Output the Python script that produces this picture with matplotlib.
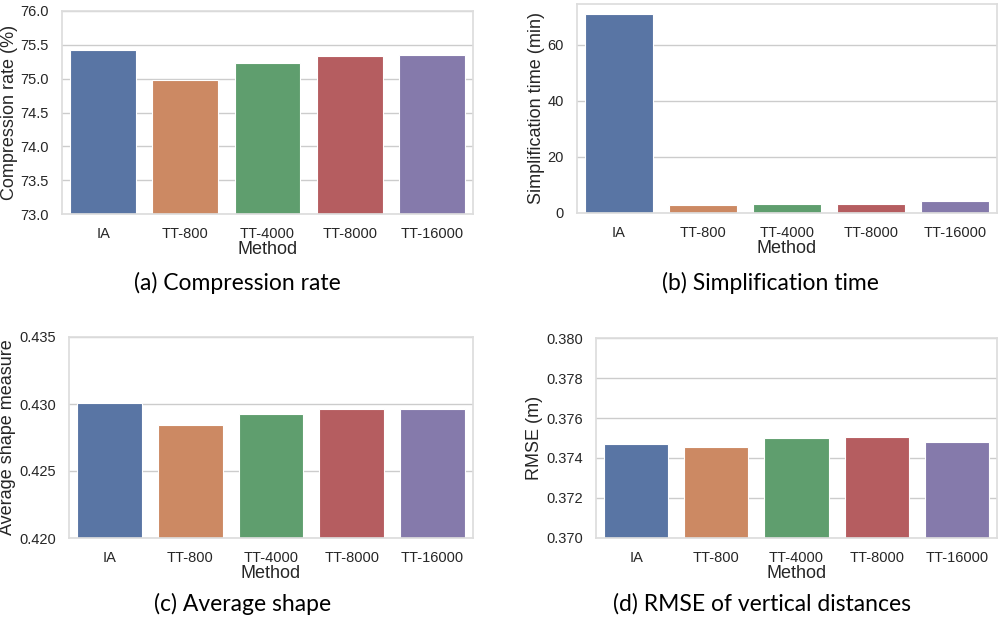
import matplotlib
matplotlib.use("Agg")
import matplotlib.pyplot as plt
import seaborn as sns

methods = ["IA", "TT-800", "TT-4000", "TT-8000", "TT-16000"]
compression_rate = [75.43, 74.98, 75.23, 75.33, 75.35]
simplification_time = [70.9, 3.0, 3.3, 3.3, 4.3]
avg_shape = [0.43010, 0.42847, 0.42922, 0.42959, 0.42962]
rmse = [0.37471, 0.37454, 0.37501, 0.37504, 0.37479]

captions = ["(a) Compression rate", "(b) Simplification time",
            "(c) Average shape", "(d) RMSE of vertical distances"]

sns.set_theme(style="whitegrid", palette="deep")
plt.rcParams['font.family'] = ['Liberation Sans', 'DejaVu Sans']

fig = plt.figure(figsize=(10.01, 6.23), dpi=100)
W, H = 1001, 623

def px_axes(left, top, right, bottom):
    return fig.add_axes([left / W, 1 - bottom / H, (right - left) / W, (bottom - top) / H])

panels = [
    (px_axes(62, 11, 473, 214), compression_rate, "Compression rate (%)", (73.0, 76.0), [73.0, 73.5, 74.0, 74.5, 75.0, 75.5, 76.0], "{:.1f}"),
    (px_axes(577, 4, 997, 213), simplification_time, "Simplification time (min)", None, [0, 20, 40, 60], "{:.0f}"),
    (px_axes(69, 337, 473, 538), avg_shape, "Average shape measure", (0.420, 0.435), [0.420, 0.425, 0.430, 0.435], "{:.3f}"),
    (px_axes(596, 338, 997, 538), rmse, "RMSE (m)", (0.370, 0.380), [0.370, 0.372, 0.374, 0.376, 0.378, 0.380], "{:.3f}"),
]

# seaborn barplot desaturates the palette to 0.75
colors = sns.color_palette("deep", 5, desat=0.75)

for ax, vals, ylabel, ylim, ticks, fmt in panels:
    ax.bar(range(len(methods)), vals, width=0.8, color=colors,
           edgecolor="white", linewidth=0.8, zorder=2)
    ax.set_xlim(-0.5, len(methods) - 0.5)
    if ylim is not None:
        ax.set_ylim(*ylim)
    ax.set_yticks(ticks)
    ax.set_yticklabels([fmt.format(t) for t in ticks])
    ax.set_xticks(range(len(methods)))
    ax.set_xticklabels(methods)
    ax.tick_params(axis='both', labelsize=10.5, colors="#262626", pad=3.5)
    ax.set_xlabel("Method", fontsize=13, labelpad=0, color="#262626")
    ax.set_ylabel(ylabel, fontsize=13, labelpad=2, color="#262626")
    ax.grid(axis='x', visible=False)
    ax.set_axisbelow(True)
    for sp in ax.spines.values():
        sp.set_color("#dddddd")

cap_pos = [(237, 283), (770, 283), (243, 604), (762, 604)]
for text, (cx, cy) in zip(captions, cap_pos):
    fig.text(cx / W, 1 - cy / H, text, ha="center", va="center",
             fontsize=16.5, family=["Lato", "DejaVu Sans"], color="black")

fig.savefig("out.png", dpi=100)
